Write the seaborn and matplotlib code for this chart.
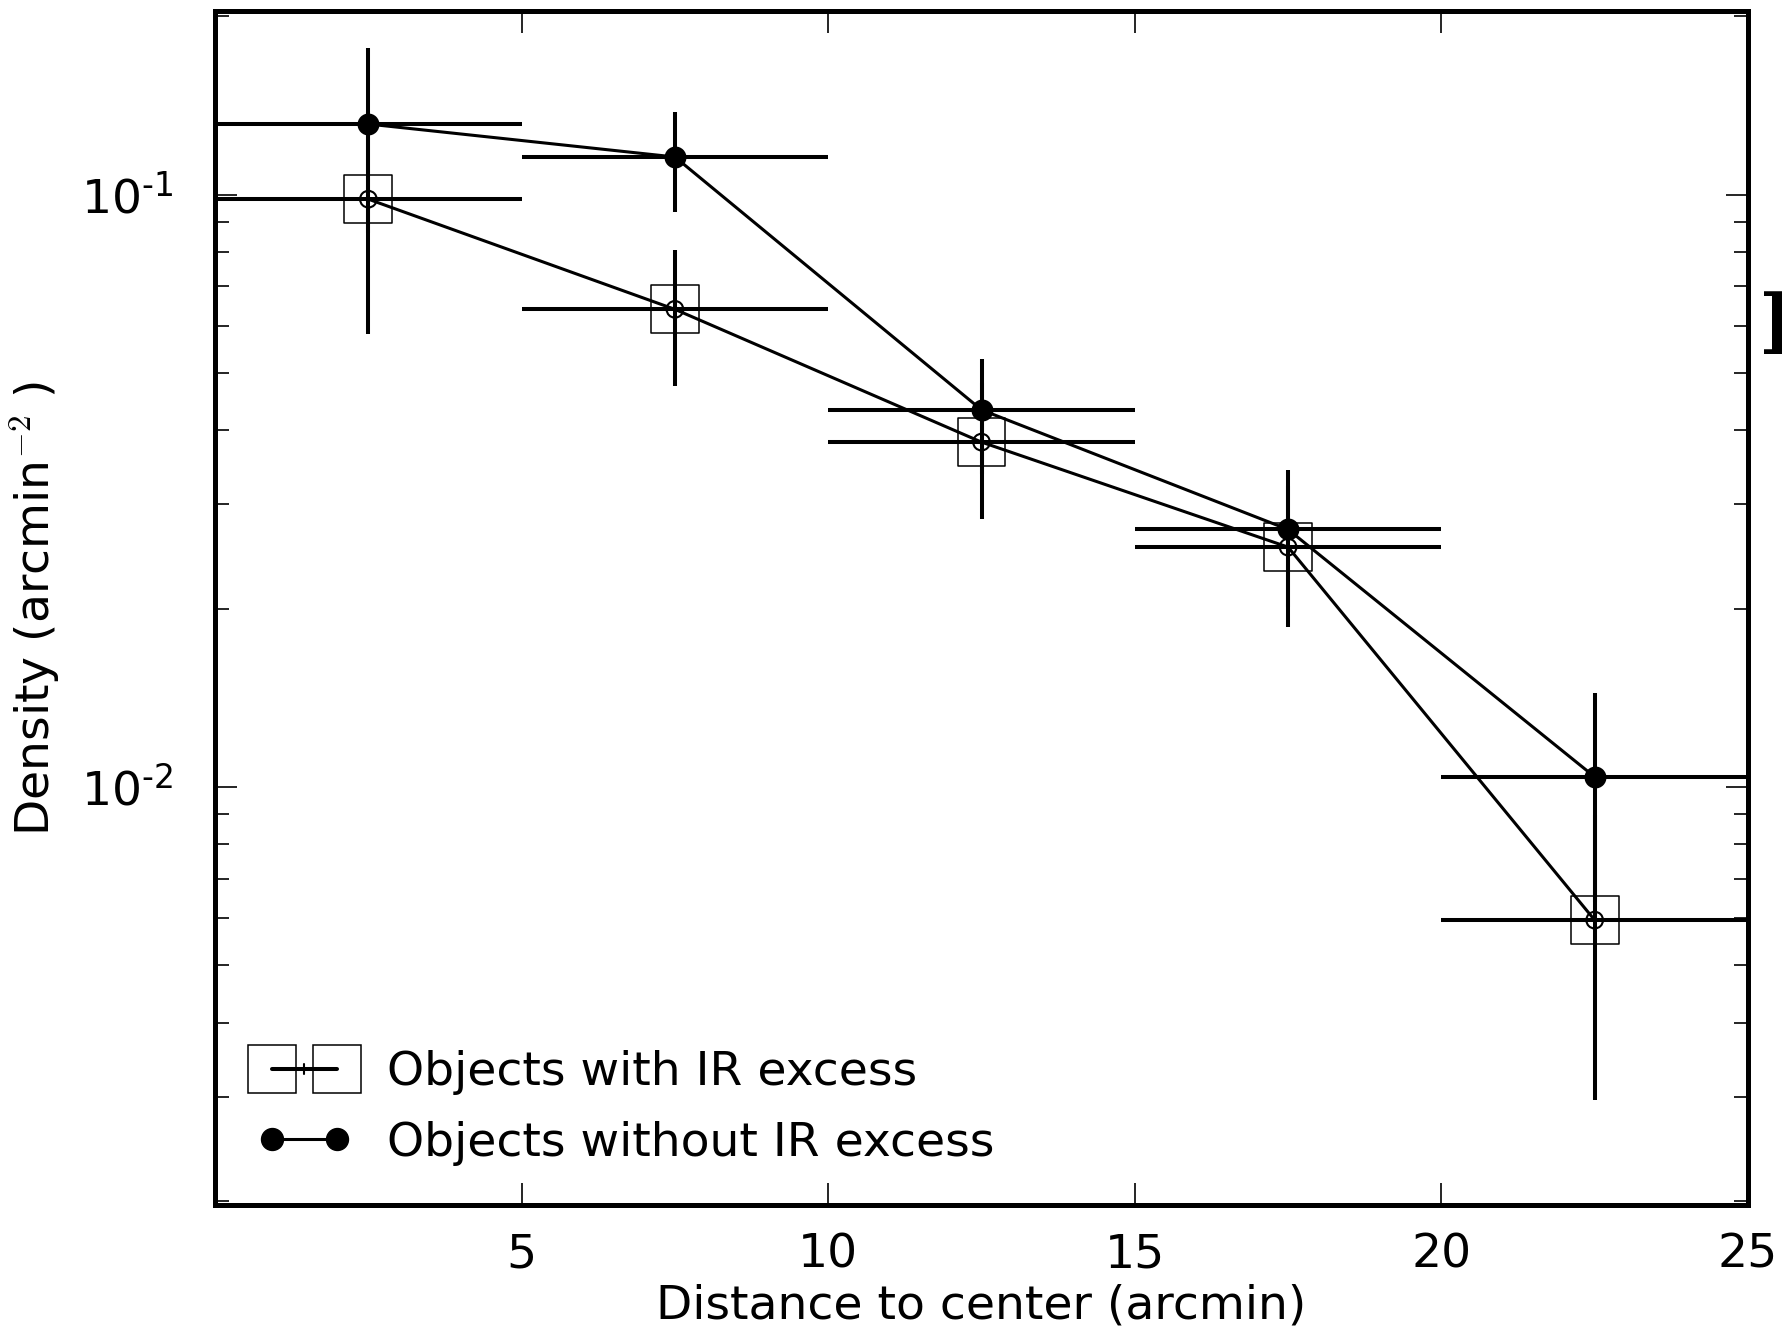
import numpy as np
import pandas as pd
import matplotlib
matplotlib.use("Agg")
import matplotlib.pyplot as plt
import seaborn as sns
from matplotlib.lines import Line2D
from matplotlib.legend_handler import HandlerBase
from matplotlib.ticker import FixedLocator, FixedFormatter

# ---------------- data ----------------
bin_centers = [2.5, 7.5, 12.5, 17.5, 22.5]
bin_halfwidth = [2.5, 2.5, 2.5, 2.5, 2.5]
dens_with_ir = [0.0982, 0.0640, 0.0382, 0.0254, 0.00596]
err_with_ir = [0.0400, 0.0165, 0.0099, 0.0068, 0.0030]
dens_without_ir = [0.1315, 0.1157, 0.0433, 0.0272, 0.0104]
err_without_ir = [0.0455, 0.0222, 0.0095, 0.0071, 0.0040]
x_ticks = [5, 10, 15, 20, 25]
y_ticks = [0.01, 0.1]
y_ticklabels = ["$10^{\u2010 2}$", "$10^{\u2010 1}$"]
label_with = "Objects with IR excess"
label_without = "Objects without IR excess"

df = pd.DataFrame({
    "distance": bin_centers * 2,
    "density": dens_with_ir + dens_without_ir,
    "group": [label_with] * 5 + [label_without] * 5,
})

sns.set_theme(style="ticks")
plt.rcParams["font.family"] = ["DejaVu Sans"]
plt.rcParams["mathtext.fontset"] = "dejavusans"
plt.rcParams["text.color"] = "black"
plt.rcParams["axes.labelcolor"] = "black"
plt.rcParams["xtick.color"] = "black"
plt.rcParams["ytick.color"] = "black"

FS = 34

fig = plt.figure(figsize=(17.82, 13.31), dpi=100)
ax = fig.add_axes([0.1207, 0.0947, 0.8602, 0.8967])

LW_ERR = 2.9
LW_LINE = 2.2

# connecting lines through seaborn
sns.lineplot(data=df, x="distance", y="density", hue="group",
             palette={label_with: "black", label_without: "black"},
             linewidth=LW_LINE, legend=False, ax=ax, sort=False,
             estimator=None)

# error bars
ax.errorbar(bin_centers, dens_with_ir, xerr=bin_halfwidth, yerr=err_with_ir,
            fmt="none", ecolor="black", elinewidth=LW_ERR, capsize=0, zorder=3)
ax.errorbar(bin_centers, dens_without_ir, xerr=bin_halfwidth, yerr=err_without_ir,
            fmt="none", ecolor="black", elinewidth=LW_ERR, capsize=0, zorder=3)

# markers
sns.scatterplot(x=bin_centers, y=dens_with_ir, marker="s", s=34.5**2,
                facecolor="none", edgecolor="black", linewidth=1.1, ax=ax,
                zorder=4, legend=False)
sns.scatterplot(x=bin_centers, y=dens_with_ir, marker="o", s=12**2,
                facecolor="none", edgecolor="black", linewidth=1.5, ax=ax,
                zorder=4, legend=False)
sns.scatterplot(x=bin_centers, y=dens_without_ir, marker="o", s=15.8**2,
                color="black", edgecolor="black", linewidth=0, ax=ax,
                zorder=5, legend=False)

ax.set_yscale("log")
ax.set_xlim(0, 25)
ax.set_ylim(0.00197, 0.2037)
ax.set_xticks(x_ticks)
ax.set_xticklabels([str(t) for t in x_ticks])
ax.yaxis.set_major_locator(FixedLocator(y_ticks))
ax.yaxis.set_major_formatter(FixedFormatter(y_ticklabels))

ax.set_xlabel("Distance to center (arcmin)", fontsize=FS, labelpad=4)
ax.set_ylabel("Density (arcmin$^{-2}$ )", fontsize=FS, labelpad=14,
              math_fontfamily="cm")

for s in ax.spines.values():
    s.set_linewidth(3.6)
    s.set_color("black")

ax.tick_params(axis="both", which="both", direction="in", top=True, right=True,
               color="black", labelsize=FS)
ax.tick_params(axis="x", which="major", length=16, width=1.2, pad=20)
ax.tick_params(axis="y", which="major", length=16, width=1.2, pad=30)
ax.tick_params(axis="y", which="minor", length=10, width=1.2)
ax.tick_params(axis="x", which="minor", bottom=False, top=False)


class HandlerWithIR(HandlerBase):
    def create_artists(self, legend, orig_handle, xdescent, ydescent,
                       width, height, fontsize, trans):
        y = height / 2 - ydescent
        x1 = -xdescent + width * 0.2
        x2 = -xdescent + width * 0.8
        sq = Line2D([x1, x2], [y, y], ls="none", marker="s", markersize=34.5,
                    mfc="none", mec="black", mew=1.1, transform=trans)
        hl = Line2D([x1, x2], [y, y], color="black", lw=LW_ERR, transform=trans)
        xm = -xdescent + width * 0.5
        vl = Line2D([xm, xm], [y - 3.5, y + 3.5],
                    color="black", lw=1.5, transform=trans)
        return [hl, vl, sq]


class HandlerWithoutIR(HandlerBase):
    def create_artists(self, legend, orig_handle, xdescent, ydescent,
                       width, height, fontsize, trans):
        y = height / 2 - ydescent
        x1 = -xdescent + width * 0.2
        x2 = -xdescent + width * 0.8
        ln = Line2D([x1, x2], [y, y], color="black", lw=LW_LINE, marker="o",
                    markersize=15.8, mfc="black", mec="black", transform=trans)
        return [ln]


h_with = Line2D([], [])
h_without = Line2D([], [])
ax.legend([h_with, h_without], [label_with, label_without],
          handler_map={h_with: HandlerWithIR(), h_without: HandlerWithoutIR()},
          loc="lower left", frameon=False, fontsize=FS, handlelength=2.3,
          handletextpad=0.6, labelspacing=0.54, borderaxespad=0.0,
          borderpad=0.4, bbox_to_anchor=(0.0105, 0.017))

# clipped glyph at the right edge
fig.text(0.9875, 0.752, "D", fontsize=62, family="DejaVu Serif",
         fontweight="bold", va="center", ha="left")

fig.savefig("out.png", dpi=100)
